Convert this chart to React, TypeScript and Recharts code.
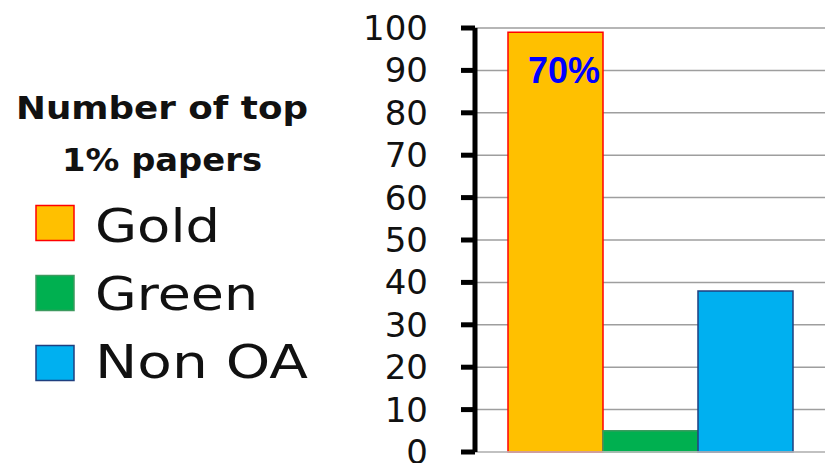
import React from "react";
import {
  BarChart,
  Bar,
  XAxis,
  YAxis,
  CartesianGrid,
  Legend,
  LabelList,
} from "recharts";

const series = ["Gold", "Green", "Non OA"];
const counts = [99, 5, 38];
const barLabels = ["70%", "", ""];
const fills = ["#FFC000", "#00B050", "#00B0F0"];
const strokes = ["#FF0000", "#3C9A5F", "#1F3F7F"];
const yTicks = [0, 10, 20, 30, 40, 50, 60, 70, 80, 90, 100];
const legendTitle = ["Number of top", "1% papers"];

// widths of the stretched legend text in the original image
const titleWidths = [292, 200];
const itemWidths = [125, 163, 213];

const row: Record<string, string | number> = { name: "top 1%" };
series.forEach((s, i) => {
  row[`v${i}`] = counts[i];
  row[`l${i}`] = barLabels[i];
});
const data = [row];

function BarTag(props: any) {
  const { x, y, width, value } = props;
  if (!value) return null;
  return (
    <text
      x={x + width - 3}
      y={y + 51}
      textAnchor="end"
      fill="#0000FF"
      fontFamily="Liberation Sans, Arial, sans-serif"
      fontWeight="bold"
      fontSize={36}
    >
      {value}
    </text>
  );
}

function SideLegend(props: any) {
  const payload = props.payload || [];
  return (
    <svg width={340} height={463} style={{ display: "block" }}>
      {legendTitle.map((t, i) => (
        <text
          key={t}
          x={162}
          y={119 + i * 52}
          textAnchor="middle"
          fontFamily="DejaVu Sans, sans-serif"
          fontWeight="bold"
          fontSize={32}
          fill="#111"
          textLength={titleWidths[i]}
          lengthAdjust="spacingAndGlyphs"
        >
          {t}
        </text>
      ))}
      {payload.map((p: any, i: number) => (
        <g key={p.value}>
          <rect
            x={36}
            y={205.5 + i * 70}
            width={38}
            height={35}
            fill={fills[i]}
            stroke={strokes[i]}
            strokeWidth={1.5}
          />
          <text
            x={95}
            y={242 + i * 68}
            fontFamily="DejaVu Sans, sans-serif"
            fontSize={46}
            fill="#111"
            textLength={itemWidths[i]}
            lengthAdjust="spacingAndGlyphs"
          >
            {p.value}
          </text>
        </g>
      ))}
    </svg>
  );
}

export default function App() {
  return (
    <div style={{ position: "absolute", left: 0, top: 0, background: "#fff" }}>
      <BarChart
        width={828}
        height={463}
        data={data}
        margin={{ top: 28, right: 3, bottom: 0, left: 0 }}
        barGap={0}
      >
        <CartesianGrid vertical={false} stroke="#9e9e9e" strokeWidth={1.5} />
        <XAxis
          dataKey="name"
          height={11}
          tick={false}
          tickLine={false}
          axisLine={{ stroke: "#c4c4c4", strokeWidth: 1.5 }}
        />
        <YAxis
          width={475}
          domain={[0, 100]}
          ticks={yTicks}
          interval={0}
          tickSize={14}
          tickMargin={33}
          axisLine={{ stroke: "#000", strokeWidth: 5 }}
          tickLine={{ stroke: "#000", strokeWidth: 5 }}
          tick={{
            fill: "#111",
            fontSize: 34,
            fontFamily: "DejaVu Sans, sans-serif",
          }}
        />
        <YAxis
          yAxisId="r"
          orientation="right"
          width={0}
          domain={[0, 100]}
          tick={false}
          tickLine={false}
          axisLine={{ stroke: "#000", strokeWidth: 5 }}
        />
        <Legend
          layout="vertical"
          align="center"
          verticalAlign="middle"
          wrapperStyle={{ left: 0, top: 0, width: 340, height: 463 }}
          content={<SideLegend />}
        />
        {series.map((s, i) => (
          <Bar
            key={s}
            dataKey={`v${i}`}
            name={s}
            fill={fills[i]}
            stroke={strokes[i]}
            strokeWidth={1.5}
            barSize={95}
            isAnimationActive={false}
          >
            {barLabels[i] ? (
              <LabelList dataKey={`l${i}`} content={<BarTag />} />
            ) : null}
          </Bar>
        ))}
      </BarChart>
    </div>
  );
}
